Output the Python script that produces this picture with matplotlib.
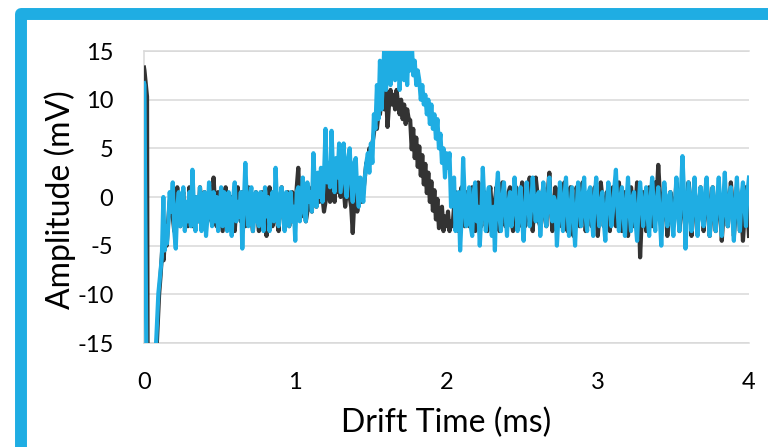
import numpy as np
import matplotlib
matplotlib.use("Agg")
import matplotlib.pyplot as plt
from matplotlib.patches import Rectangle

plt.rcParams['font.family'] = ['Lato', 'DejaVu Sans']
plt.rcParams['axes.unicode_minus'] = False

BLUE = '#1FADE3'
DARK = '#333333'
GRID = '#d9d9d9'

# Trigger artefact at the start of each trace (ms, mV)
dark_onset_t = [0.0, 0.003, 0.02, 0.025, 0.075, 0.085, 0.10, 0.11, 0.12, 0.13, 0.14, 0.15]
dark_onset_v = [13.3, 13.0, 10.3, -25.0, -25.0, -15.0, -10.0, -8.0, -5.5, -6.5, -3.5, -5.0]
blue_onset_t = [0.0, 0.003, 0.006, 0.012, 0.02, 0.07, 0.08, 0.095, 0.11, 0.118, 0.128, 0.136, 0.145, 0.152]
blue_onset_v = [11.7, 11.5, 3.8, -8.0, -25.0, -25.0, -15.0, -9.9, -7.5, -6.2, 0.0, -5.5, -3.0, -4.8]

# Signal sampled every 0.01 ms from 0.16 ms to 4.00 ms (mV), 0.2 ms per row
dark_signal = [
    -2.5, -0.5, 0.5, -2.0, -3.5, -1.0, 1.0, -1.5, -3.0, -0.5, 0.5, -2.5, -1.0, -3.0, 1.0, -0.5, -3.0, -1.5, 0.0, -2.0,
    -2.5, 1.0, -1.0, -3.0, 0.5, -1.5, -2.5, 0.0, 1.0, -2.0, 2.0, -1.0, -3.0, 0.5, -0.5, -2.0, -3.5, 0.0, 1.0, -2.0,
    -3.0, -0.5, 0.0, -2.5, -3.5, -1.0, 1.0, -1.5, -2.5, 0.5, -1.0, -3.0, -1.5, 1.0, -0.5, -2.0, -3.5, -0.5, 0.5, -2.0,
    -3.5, -1.0, 0.5, -2.5, -1.5, -4.0, -2.0, 1.0, -0.5, -3.0, -1.5, 0.0, -2.5, -3.5, -0.5, 1.0, -1.5, -3.0, -1.0, 0.5,
    -3.0, -1.0, 0.5, -2.5, -1.5, 1.0, 3.0, -0.5, -2.0, -1.0, 0.0, -2.5, -1.5, 1.0, -0.5, -1.5, 2.0, 0.0, -1.0, 1.5,
    -0.5, 1.5, 0.0, -1.5, -0.5, 2.5, 0.5, -0.5, 3.0, 1.0, -0.5, 2.5, 0.5, 1.5, 0.0, 2.0, 1.0, -1.0, 0.5, 2.0,
    0.0, -1.0, -3.7, -0.5, 0.5, -1.5, 0.0, 1.0, -0.5, 0.5, 2.0, 3.5, 3.0, 5.0, 4.5, 5.5, 6.5, 8.0, 7.0, 8.5,
    8.5, 10.0, 10.5, 9.0, 11.0, 7.2, 9.5, 11.0, 9.5, 10.5, 9.0, 11.0, 9.5, 8.5, 10.0, 8.0, 9.5, 7.5, 9.0, 8.0,
    7.9, 4.9, 7.0, 4.0, 6.1, 3.1, 5.2, 2.2, 4.3, 1.3, 3.4, 0.4, 2.5, -0.5, 1.6, -1.4, 0.7, -2.3, -0.2, -3.2,
    -2.5, -1.0, -3.5, -2.0, -3.0, -1.5, -3.5, -2.5, -3.0, -1.0, 0.5, -2.5, -3.5, 0.0, 1.0, -2.0, -3.0, 0.5, -1.5, -3.0,
    -0.5, 1.0, -2.5, -3.5, 0.0, 1.5, -1.5, -3.0, -0.5, 0.5, -2.5, -3.5, 0.0, 1.0, -1.5, -3.0, -0.5, 1.0, -2.0, -3.5,
    -0.5, 1.5, -1.0, -3.0, -2.0, 0.5, 1.0, -2.5, -3.5, 0.0, 1.0, -1.5, -3.0, -0.5, 1.5, -1.0, -3.0, -2.0, 0.5, 2.0,
    -1.0, -3.5, -0.5, 2.0, 0.5, -2.5, -3.0, 0.0, 1.0, -2.0, -3.0, 0.5, 2.5, -1.0, -3.5, -1.5, 1.0, -0.5, -2.5, 0.5,
    -3.0, -1.0, 1.5, -0.5, -3.5, -1.5, 1.0, -0.5, -4.0, -2.0, 1.0, 0.0, -3.0, -1.0, 1.5, -0.5, -3.5, -1.5, 0.5, -1.0,
    -3.0, -0.5, 1.0, -1.5, -4.0, -2.0, 1.5, 0.0, -3.0, -1.0, 0.5, -1.5, -3.5, 0.0, 1.0, -1.0, -3.0, -0.5, 1.5, -1.0,
    -3.5, -1.5, 0.5, -1.0, -4.0, -2.0, 1.0, -0.5, -3.0, -1.0, 1.5, 0.0, -6.2, -2.5, 0.5, -1.0, -3.5, -1.5, 1.0, -0.5,
    -3.0, -1.0, 1.5, 0.0, 3.3, 0.5, -3.5, -1.5, 1.0, -1.0, -4.0, -2.0, 0.5, -0.5, -3.0, -1.0, 1.5, 0.0, -3.5, -1.5,
    1.0, -1.0, -3.5, -1.5, 1.5, 0.0, -4.0, -2.0, 0.5, -0.5, -3.0, -1.0, 1.0, -1.0, -3.5, -1.5, 1.5, -0.5, -4.0, -2.0,
    1.0, -1.0, -3.5, -1.5, 0.5, -1.0, -4.5, -2.0, 1.0, 0.0, -3.0, -1.0, 1.5, -0.5, -4.0, -2.0, 1.0, -0.5, -3.5, -1.5,
    -4.5, -2.0, 1.0, -1.5, -4.0,
]
blue_signal = [
    -3.0, 0.5, -1.5, 1.5, -3.5, -5.3, -1.0, 0.5, -3.0, -1.5, 1.0, -3.5, -0.5, -2.5, 0.5, -3.0, 2.8, -1.0, -3.5, 0.0,
    -2.5, 1.0, -3.5, -1.0, 0.5, -4.0, -2.0, 1.5, -1.0, -3.0, 0.5, -2.5, 0.0, -3.5, -1.5, 1.0, -3.0, 0.5, -2.0, -3.5,
    0.5, -1.5, -4.0, 0.0, 1.5, -2.5, -0.5, -2.0, 0.5, -5.3, -1.0, 3.5, -0.5, -3.0, 0.0, 1.0, -3.5, -1.5, 0.5, -2.5,
    -3.0, 0.5, -1.0, -3.5, 1.0, -2.0, 0.0, -3.5, -1.5, 0.5, -2.5, 3.0, -1.0, -3.0, 0.0, 1.0, -2.0, -3.5, 0.5, -1.5,
    -3.0, 0.5, -2.5, -1.0, -4.5, 0.5, 1.0, -2.5, -0.5, 2.0, -1.5, -2.5, 1.5, -0.5, 0.5, -1.5, 4.5, 1.0, -1.0, 2.5,
    0.0, 3.0, -0.5, 2.0, 7.0, 1.5, 3.5, 1.0, 6.8, 2.5, 0.5, 4.0, 2.0, 5.5, 0.5, 3.0, 5.5, 1.5, 0.0, 4.0,
    5.0, 1.5, -0.5, 3.5, 4.0, 0.5, -1.0, 2.0, 0.5, -0.5, 2.0, 3.5, 4.5, 2.5, 5.5, 3.5, 8.5, 7.0, 11.5, 8.0,
    14.0, 9.0, 12.0, 16.0, 11.0, 13.5, 16.0, 11.5, 14.0, 16.0, 12.0, 13.0, 16.0, 11.0, 14.5, 16.0, 12.0, 15.0, 11.5, 16.0,
    13.0, 16.0, 12.5, 14.0, 11.5, 13.0, 12.0, 10.0, 11.5, 9.5, 10.5, 8.5, 10.0, 7.5, 9.5, 7.0, 8.5, 6.0, 8.0, 5.0,
    6.5, 3.5, 5.0, 2.0, 4.5, 3.0, 4.5, -1.0, 0.5, 2.0, -3.5, -1.0, 0.5, -5.5, -2.0, 4.0, 0.0, -3.0, -1.5, 1.0,
    -3.0, -4.0, 0.5, 1.5, -2.5, -1.0, -5.0, -2.0, 3.0, -0.5, -3.5, 0.0, 1.0, -2.5, -4.0, -1.0, -5.5, 0.5, 2.5, -2.0,
    -3.5, 0.0, 1.5, -1.5, -4.0, -0.5, 0.5, -3.0, -1.5, 2.0, -0.5, -3.5, -1.0, 1.0, -2.5, -4.5, -1.0, 1.5, -0.5, -3.0,
    -1.0, 2.0, -0.5, -2.5, 0.0, 0.5, -4.0, -1.5, 1.5, -1.0, -3.0, 0.0, 2.0, -1.5, -2.5, 0.0, -0.5, -5.0, -2.0, 1.5,
    -1.0, -3.5, 0.0, 2.0, -1.5, -4.0, -1.0, 1.0, -2.0, -5.0, -1.5, 1.5, -0.5, -3.0, 0.0, 2.0, -2.0, -3.5, 0.5, 1.0,
    -2.0, -4.0, 0.0, 2.0, -1.0, -3.0, -0.5, 0.5, -2.5, -4.5, -1.0, 1.5, -0.5, -3.0, -1.5, 1.0, 2.8, -1.0, -3.5, 0.0,
    1.0, -2.0, -4.0, -0.5, 2.0, -1.5, -3.5, 0.0, 0.5, -2.5, -4.5, -1.0, 1.5, -0.5, -3.0, -1.0, 1.0, -2.0, -4.0, 0.0,
    2.0, -1.0, -3.5, -0.5, 1.0, -2.0, -5.0, -1.5, 1.5, -0.5, -3.0, 0.0, 0.5, -2.5, -4.0, -1.0, 2.0, -1.5, -3.5, 0.5,
    4.2, 0.5, -5.3, -2.0, 1.5, -1.0, -3.5, 0.0, 2.0, -1.5, -4.0, -0.5, 1.0, -2.0, -3.0, 0.5, 2.0, -1.5, -4.0, -1.0,
    1.0, -2.0, -3.5, 0.0, 2.0, -1.0, -4.0, -0.5, 2.5, -1.5, -3.0, 0.0, 1.0, -2.0, -4.5, -0.5, 2.0, -1.5, -3.5, 0.0,
    1.5, -1.0, -3.0, 0.5, 2.0,
]

x_ticks = [0, 1, 2, 3, 4]
y_ticks = [-15, -10, -5, 0, 5, 10, 15]

dark_t = np.concatenate([dark_onset_t, np.linspace(0.16, 4.0, len(dark_signal))])
dark_v = np.concatenate([dark_onset_v, dark_signal])
blue_t = np.concatenate([blue_onset_t, np.linspace(0.16, 4.0, len(blue_signal))])
blue_v = np.concatenate([blue_onset_v, blue_signal])

W, H = 768, 447
fig = plt.figure(figsize=(W / 100, H / 100), dpi=100)
ax = fig.add_axes([144 / W, 1 - 343 / H, (749 - 144) / W, (343 - 51) / H])

ax.plot(dark_t, dark_v, color=DARK, lw=3.0, solid_joinstyle='round', zorder=3)
ax.plot(blue_t, blue_v, color=BLUE, lw=3.0, solid_joinstyle='round', zorder=4)

ax.set_xlim(0, 4)
ax.set_ylim(-15, 15)
ax.set_xticks(x_ticks)
ax.set_yticks(y_ticks)
ax.yaxis.grid(True, color=GRID, lw=1.1)
ax.set_axisbelow(True)
for side in ('left', 'top', 'bottom'):
    ax.spines[side].set_color(GRID)
    ax.spines[side].set_linewidth(1.1)
ax.spines['right'].set_visible(False)
ax.tick_params(length=0, labelsize=17, colors='black')
ax.tick_params(axis='y', pad=22)
ax.tick_params(axis='x', pad=21)

fig.text(60 / W, 1 - 200 / H, 'Amplitude (mV)', rotation=90,
         ha='center', va='center', fontsize=23)
fig.text(446 / W, 1 - 423 / H, 'Drift Time (ms)',
         ha='center', va='center', fontsize=23)

# Blue frame round the chart
frame = Rectangle((21 / W, -2 / H), (775 - 21) / W, (449 - 13.5) / H,
                  transform=fig.transFigure, fill=False, ec=BLUE,
                  lw=8.6, joinstyle='round', clip_on=False)
fig.add_artist(frame)

fig.savefig('out.png', dpi=100)
